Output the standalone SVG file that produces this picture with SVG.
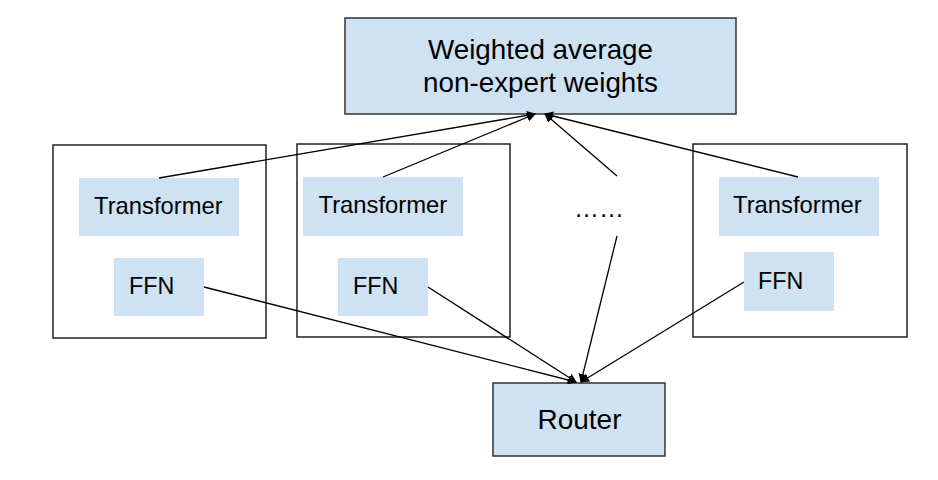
<svg xmlns="http://www.w3.org/2000/svg" width="938" height="480" viewBox="0 0 938 480">
<style>
.t{font-family:"Liberation Sans",Arial,sans-serif;fill:#000}
.blue{fill:#cfe2f3}
.box{fill:#cfe2f3;stroke:#333;stroke-width:1.5}
.frame{fill:none;stroke:#222;stroke-width:1.5}
.c{stroke:#000;stroke-width:1.3;fill:none;marker-end:url(#ah)}
</style>
<defs>
<marker id="ah" viewBox="0 0 10 10" refX="9" refY="5" markerWidth="9" markerHeight="9" markerUnits="userSpaceOnUse" orient="auto">
<path d="M0,0 L10,5 L0,10 Z" fill="#000"/>
</marker>
</defs>
<rect width="938" height="480" fill="#fff"/>
<g id="weighted">
<rect class="box" x="345" y="18" width="391" height="96"/>
<text class="t" x="540.5" y="59" font-size="27.8" text-anchor="middle">Weighted average</text>
<text class="t" x="540.5" y="92" font-size="27.8" text-anchor="middle">non-expert weights</text>
</g>
<g id="expert1">
<rect class="frame" x="53" y="145" width="213" height="193"/>
<rect class="blue" x="79" y="178" width="160" height="58"/>
<text class="t" x="94" y="214" font-size="23.8">Transformer</text>
<rect class="blue" x="114" y="258" width="90" height="58"/>
<text class="t" x="129" y="294" font-size="23.3">FFN</text>
</g>
<g id="expert2">
<rect class="frame" x="297" y="144" width="213" height="193"/>
<rect class="blue" x="303" y="177" width="160" height="59"/>
<text class="t" x="318.5" y="213" font-size="23.8">Transformer</text>
<rect class="blue" x="338" y="258" width="90" height="58"/>
<text class="t" x="353" y="294" font-size="23.3">FFN</text>
</g>
<g id="ellipsis">
<text class="t" x="574" y="217" font-size="25">……</text>
</g>
<g id="expert4">
<rect class="frame" x="693" y="144" width="214" height="193"/>
<rect class="blue" x="719" y="177" width="160" height="59"/>
<text class="t" x="733" y="213" font-size="23.8">Transformer</text>
<rect class="blue" x="744" y="252" width="90" height="59"/>
<text class="t" x="758" y="289" font-size="23.3">FFN</text>
</g>
<g id="router">
<rect class="box" x="493" y="383" width="172" height="73"/>
<text class="t" x="579.5" y="429" font-size="28" text-anchor="middle">Router</text>
</g>
<g id="connectors">
<line class="c" x1="159" y1="178" x2="535" y2="114"/>
<line class="c" x1="383" y1="177" x2="535" y2="114"/>
<line class="c" x1="617" y1="176" x2="545" y2="114"/>
<line class="c" x1="798" y1="177" x2="545" y2="114"/>
<line class="c" x1="204" y1="287" x2="576" y2="382"/>
<line class="c" x1="428" y1="287" x2="576" y2="382"/>
<line class="c" x1="617" y1="236" x2="581" y2="382"/>
<line class="c" x1="744" y1="282" x2="581" y2="382"/>
</g>
</svg>
